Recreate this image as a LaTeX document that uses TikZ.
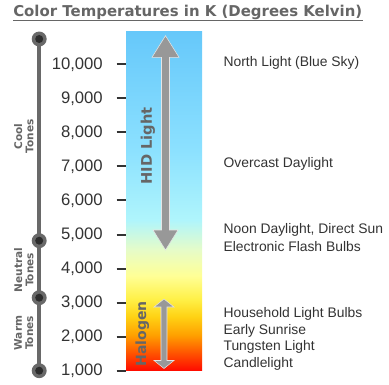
\documentclass[tikz,border=0pt]{standalone}
\usepackage{fontspec}
\setmainfont{Liberation Sans}
\newfontfamily\dvs{DejaVu Sans}
\definecolor{txt}{RGB}{51,51,51}
\definecolor{lbl}{RGB}{102,102,102}
\definecolor{axisg}{RGB}{105,105,105}
\definecolor{dotin}{RGB}{45,45,45}
\definecolor{arrg}{RGB}{152,152,152}
\definecolor{g0}{RGB}{255,10,0}
\definecolor{g1}{RGB}{255,80,0}
\definecolor{g2}{RGB}{255,160,0}
\definecolor{g3}{RGB}{255,210,20}
\definecolor{g4}{RGB}{255,240,70}
\definecolor{g5}{RGB}{255,255,150}
\definecolor{g6}{RGB}{230,252,200}
\definecolor{g7}{RGB}{175,245,252}
\definecolor{g8}{RGB}{140,225,255}
\definecolor{g9}{RGB}{102,200,250}
\pgfdeclareverticalshading{tempgrad}{100bp}{color(0bp)=(g0); color(25bp)=(g0); color(27.5bp)=(g1); color(30.25bp)=(g2); color(33bp)=(g3); color(35.5bp)=(g4); color(39bp)=(g5); color(42.8bp)=(g6); color(47.25bp)=(g7); color(57.5bp)=(g8); color(75bp)=(g9); color(100bp)=(g9)}
\tikzset{
  ticklbl/.style={anchor=east, inner sep=0pt, text=txt, font=\fontsize{12.5}{14}\selectfont},
  desc/.style={anchor=west, inner sep=0pt, text=txt, font=\fontsize{10.4}{12}\selectfont},
  tone/.style={rotate=90, inner sep=0pt, text=lbl, align=center, font=\dvs\bfseries\fontsize{7.9}{8.4}\selectfont},
  tickmark/.style={draw=txt, line width=1.5pt},
  dotouter/.style={fill=axisg},
  dotinner/.style={fill=dotin},
  bigarrow/.style={fill=arrg, draw=white!75!arrg, line width=0.4pt},
}
\begin{document}
\begin{tikzpicture}[x=0.75pt,y=-0.75pt]
\useasboundingbox (0,0) rectangle (389,385);
% title
\node[anchor=base west, inner sep=0pt, text=lbl, font=\dvs\bfseries\fontsize{11.2}{13}\selectfont] (title) at (13,17) {Color Temperatures in K (Degrees Kelvin)};
\draw[lbl, line width=1pt] (title.south west |- 0,20.7) -- (title.south east |- 0,20.7);
% gradient bar
\shade[shading=tempgrad] (126,31.7) rectangle (202,370.7);
% axis line and dots
\coordinate (top) at (39.2,39);
\coordinate (neu) at (39.2,240.7);
\coordinate (war) at (39.2,297.7);
\coordinate (bot) at (39.2,370.7);
\draw[axisg, line width=3pt] (top) -- (bot);
\foreach \c in {top,neu,war,bot}{
  \fill[dotouter] (\c) circle[radius=5.6pt];
  \fill[dotinner] (\c) circle[radius=3pt];
}
% ticks and labels
\foreach \i/\lab in {1/{1,000},2/{2,000},3/{3,000},4/{4,000},5/{5,000},6/{6,000},7/{7,000},8/{8,000},9/{9,000},10/{10,000}}{
  \pgfmathsetmacro{\yy}{370.7-(\i-1)*34.05}
  \node[ticklbl] (t\i) at (103,\yy) {\lab};
  \draw[tickmark] (116.5,\yy) -- (125.5,\yy);
}
% HID arrow
\draw[bigarrow] (165.5,35.7) -- (179,57.3) -- (169.5,57.3) -- (169.5,230) -- (178,230) -- (165.5,250) -- (153,230) -- (161.5,230) -- (161.5,57.3) -- (152,57.3) -- cycle;
\node[rotate=90, inner sep=0pt, text=lbl, font=\dvs\bfseries\fontsize{11}{13}\selectfont] (hid) at (148,146) {HID Light};
% Halogen arrow
\draw[bigarrow] (164,299) -- (174,307) -- (167,307) -- (167,360.5) -- (174,360.5) -- (164,368.5) -- (154,360.5) -- (161,360.5) -- (161,307) -- (154,307) -- cycle;
\node[rotate=90, inner sep=0pt, text=lbl, font=\dvs\bfseries\fontsize{10.5}{12}\selectfont] (hal) at (142.3,334) {Halogen};
% tone labels
\node[tone] (cool) at (23.8,136.5) {Cool\\Tones};
\node[tone] (neutral) at (23.8,270) {Neutral\\Tones};
\node[tone] (warm) at (23.8,333) {Warm\\Tones};
% descriptions
\node[desc] (d1) at (223.3,62.7) {North Light (Blue Sky)};
\node[desc] (d2) at (223.3,164) {Overcast Daylight};
\node[desc] (d3) at (223.3,230) {Noon Daylight, Direct Sun};
\node[desc] (d4) at (223.3,246.4) {Electronic Flash Bulbs};
\node[desc] (d5) at (223.3,314.3) {Household Light Bulbs};
\node[desc] (d6) at (223.3,330.7) {Early Sunrise};
\node[desc] (d7) at (223.3,347.1) {Tungsten Light};
\node[desc] (d8) at (223.3,363.5) {Candlelight};
\end{tikzpicture}
\end{document}
